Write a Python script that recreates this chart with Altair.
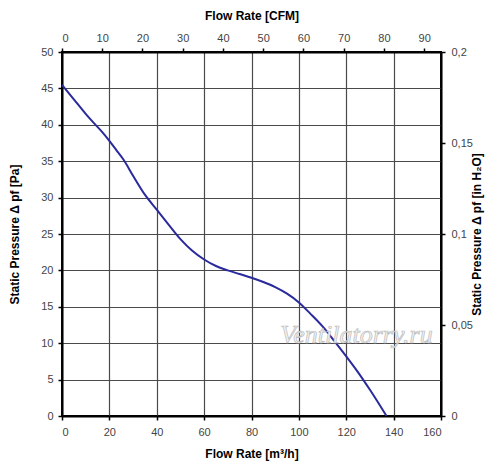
import altair as alt
import pandas as pd

# Fan curve: flow rate [m³/h] vs static pressure [Pa]
flow_m3h = [0, 5, 10, 13, 17, 20, 23, 26, 30, 35, 40, 45, 50, 55, 60, 65, 70, 75,
            80, 85, 90, 95, 100, 105, 110, 115, 120, 125, 130, 137]
pressure_pa = [45.5, 43.5, 41.5, 40.4, 39.0, 37.8, 36.5, 35.2, 33.0, 30.4, 28.35, 26.3,
               24.3, 22.7, 21.5, 20.6, 20.0, 19.5, 19.0, 18.4, 17.7, 16.8, 15.6, 14.0,
               12.3, 10.3, 8.2, 6.0, 3.6, 0.0]

# Axis tick values
bottom_ticks = [0, 20, 40, 60, 80, 100, 120, 140, 160]
left_ticks = [0, 5, 10, 15, 20, 25, 30, 35, 40, 45, 50]
top_ticks = [0, 10, 20, 30, 40, 50, 60, 70, 80, 90]
right_ticks = [0, 0.05, 0.1, 0.15, 0.2]

# Secondary-axis ranges (unit conversions of the primary ranges)
cfm_range = [0, 94.18]
inh2o_range = [0, 0.2]

# Watermark
wm_text = ["Ventilatorry.ru"]
wm_flow = [124.3]
wm_pa = [11.1]

FONT = "Liberation Sans"
LABEL_COLOR = "#444444"
GRID_COLOR = "#4a4a4a"

curve = pd.DataFrame({"flow": flow_m3h, "pa": pressure_pa})
wm = pd.DataFrame({"flow": wm_flow, "pa": wm_pa, "t": wm_text})
sec = pd.DataFrame({"cfm": cfm_range, "inh2o": inh2o_range})

common_axis = dict(
    labelFont=FONT, labelFontSize=11, labelColor=LABEL_COLOR,
    titleFont=FONT, titleFontSize=12, titleFontWeight="bold", titleColor="#000000",
    domainColor="#000000", domainWidth=2, tickColor="#000000", tickSize=4, tickWidth=1.5,
)

X = alt.X("flow:Q", scale=alt.Scale(domain=[0, 160], nice=False, zero=False),
          axis=alt.Axis(orient="bottom", values=bottom_ticks, grid=True,
                        gridColor=GRID_COLOR, gridWidth=1.2, labelPadding=6,
                        title="Flow Rate [m³/h]", titleBaseline="middle", titleY=37,
                        **common_axis))
Y = alt.Y("pa:Q", scale=alt.Scale(domain=[0, 50], nice=False, zero=False),
          axis=alt.Axis(orient="left", values=left_ticks, grid=True,
                        gridColor=GRID_COLOR, gridWidth=1.2, labelPadding=5,
                        title="Static Pressure Δ pf [Pa]", titleBaseline="middle",
                        titleAngle=270, titleX=-48, **common_axis))

line = alt.Chart(curve).mark_line(color="#2a2a9c", strokeWidth=2, interpolate="monotone").encode(
    x=X, y=Y)

watermark = alt.Chart(wm).mark_text(
    font="Liberation Serif", fontSize=26, fontStyle="italic", color="#f2f2f2",
    stroke="#bcbcbc", strokeWidth=0.7, align="center", baseline="middle"
).encode(x=X, y=Y, text="t:N")

hidden = alt.Chart(sec).mark_point(opacity=0).encode(
    x=alt.X("cfm:Q", scale=alt.Scale(domain=cfm_range, nice=False, zero=False),
            axis=alt.Axis(orient="top", values=top_ticks, grid=False, labelPadding=5,
                          title="Flow Rate [CFM]", titleBaseline="middle", titleY=-37,
                          **common_axis)),
    y=alt.Y("inh2o:Q", scale=alt.Scale(domain=inh2o_range, nice=False, zero=False),
            axis=alt.Axis(orient="right", values=right_ticks, grid=False, labelPadding=6,
                          labelExpr="replace(format(datum.value, '~g'), '.', ',')",
                          title="Static Pressure Δ pf [in H₂O]", titleBaseline="middle",
                          titleAngle=270, titleX=35, **common_axis)),
)

chart = alt.layer(alt.layer(line, watermark), hidden).resolve_scale(
    x="independent", y="independent"
).properties(
    width=379, height=364,
    autosize=alt.AutoSizeParams(type="none"),
    padding={"left": 54, "top": 44, "right": 50, "bottom": 48},
    background="#ffffff",
).configure_view(stroke="#000000", strokeWidth=2)

chart.save("out.html", embed_options={"renderer": "svg", "actions": False})
